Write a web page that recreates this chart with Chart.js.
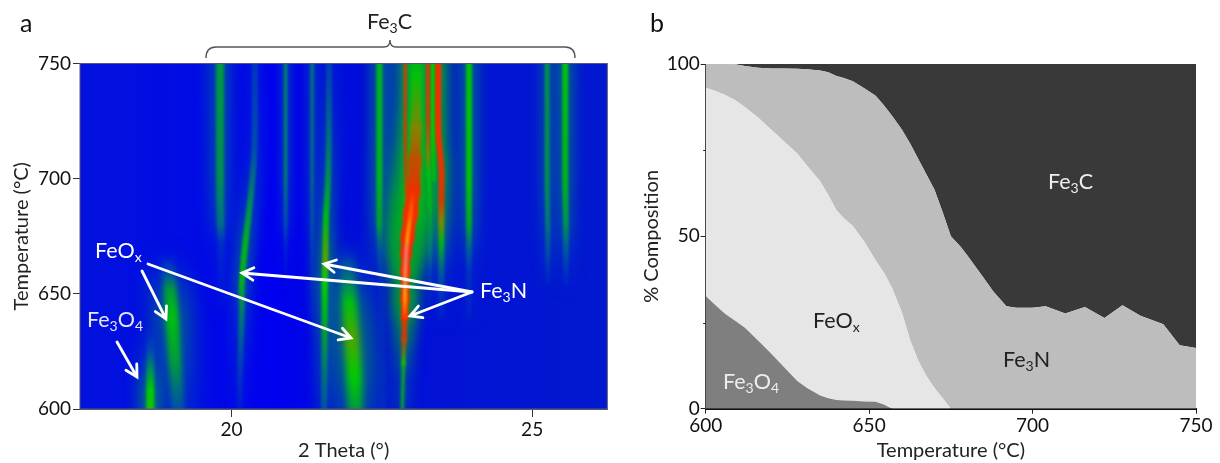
<!DOCTYPE html>
<html lang="en">
<head>
<meta charset="UTF-8">
<title>Fe phases vs temperature</title>
<script src="https://cdn.jsdelivr.net/npm/chart.js"></script>
<style>
  html, body { margin: 0; padding: 0; background: #fff; overflow: hidden; }
  #wrap { position: relative; width: 1220px; height: 463px; }
  canvas { position: absolute; top: 0; }
  #heat { left: 0; }
  #area { left: 640px; }
</style>
</head>
<body>
<div id="wrap">
  <canvas id="heat" width="640" height="463"></canvas>
  <canvas id="area" width="580" height="463"></canvas>
</div>
<script>
// panel a: diffraction peaks (2 theta, temperature, brightness)
const peakATheta = [18.65, 18.65, 18.65, 18.65, 18.65];
const peakATemp  = [634, 626, 618, 608, 600];
const peakALevel = [0.03, 0.15, 0.35, 0.6, 0.62];

const peakBTheta = [18.93, 18.95, 18.98, 19.01, 19.06, 19.11];
const peakBTemp  = [668, 662, 652, 640, 620, 600];
const peakBLevel = [0, 0.12, 0.42, 0.55, 0.42, 0.2];

const peakCTheta = [20.39, 20.38, 20.31, 20.23, 20.17, 20.17, 20.14, 20.14];
const peakCTemp  = [750, 712, 690, 672, 654, 643, 614, 600];
const peakCLevel = [0.14, 0.2, 0.36, 0.5, 0.48, 0.33, 0.12, 0.06];

const peakDTheta = [19.81, 19.81, 19.82, 19.83, 19.83, 19.83];
const peakDTemp  = [750, 700, 680, 672, 650, 640];
const peakDLevel = [0.42, 0.38, 0.28, 0.1, 0.04, 0];

const peakETheta = [20.9, 20.9, 20.9, 20.9, 20.9];
const peakETemp  = [750, 700, 680, 670, 650];
const peakELevel = [0.32, 0.3, 0.2, 0.08, 0];

const peakFTheta = [21.34, 21.34, 21.34, 21.34, 21.34];
const peakFTemp  = [750, 700, 680, 665, 640];
const peakFLevel = [0.28, 0.25, 0.18, 0.1, 0.03];

const peakGTheta = [21.62, 21.61, 21.57, 21.56, 21.55, 21.55, 21.54];
const peakGTemp  = [750, 704, 682, 665, 654, 632, 600];
const peakGLevel = [0.15, 0.35, 0.52, 0.68, 0.6, 0.42, 0.2];

const peakHTheta = [21.92, 21.93, 21.96, 22.0, 22.04, 22.06];
const peakHTemp  = [668, 663, 646, 631, 614, 600];
const peakHLevel = [0.05, 0.2, 0.56, 0.67, 0.6, 0.42];

const peakITheta = [22.46, 22.46, 22.46, 22.47, 22.49, 22.52];
const peakITemp  = [750, 700, 680, 668, 650, 600];
const peakILevel = [0.5, 0.5, 0.42, 0.15, 0.06, 0.06];

const peakJTheta = [23.07, 23.07, 23.04, 23.0, 22.92];
const peakJTemp  = [750, 720, 700, 685, 672];
const peakJLevel = [0.52, 0.54, 0.56, 0.56, 0.4];

const peakKTheta = [23.08, 23.07, 23.05, 23.02, 22.98, 22.93, 22.905, 22.89, 22.885, 22.88, 22.87, 22.86, 22.84];
const peakKTemp  = [745, 722, 708, 695, 685, 675, 668, 660, 648, 640, 630, 620, 600];
const peakKLevel = [0.56, 0.72, 0.78, 0.84, 0.88, 0.9, 0.9, 0.9, 0.9, 0.88, 0.8, 0.62, 0.5];

const coreTheta = [23.02, 22.98, 22.93, 22.905, 22.89, 22.885, 22.88];
const coreTemp  = [695, 685, 675, 668, 660, 648, 640];
const coreLevel = [0.88, 0.95, 1, 1.07, 1.05, 1, 0.92];

const peakLTheta = [22.89, 22.89, 22.9, 22.91];
const peakLTemp  = [750, 720, 700, 690];
const peakLLevel = [0.82, 0.82, 0.8, 0.6];

const peakMTheta = [23.27, 23.27, 23.27, 23.28, 23.3, 23.3, 23.3, 23.3];
const peakMTemp  = [750, 725, 710, 702, 690, 670, 660, 645];
const peakMLevel = [0.82, 0.8, 0.72, 0.55, 0.5, 0.3, 0.12, 0.03];

const peakNTheta = [23.44, 23.44, 23.49, 23.49, 23.49, 23.49, 23.49, 23.49];
const peakNTemp  = [750, 720, 704, 690, 682, 672, 658, 640];
const peakNLevel = [0.88, 0.88, 0.85, 0.8, 0.72, 0.5, 0.2, 0.05];

const peakPTheta = [23.35, 23.35, 23.36];
const peakPTemp  = [750, 720, 700];
const peakPLevel = [0.58, 0.58, 0.5];

const peakQTheta = [23.95, 23.95, 23.95, 23.95, 23.95, 23.95];
const peakQTemp  = [750, 700, 680, 670, 660, 640];
const peakQLevel = [0.55, 0.55, 0.45, 0.25, 0.1, 0.05];

const peakRTheta = [25.25, 25.25, 25.26, 25.26, 25.26];
const peakRTemp  = [750, 700, 680, 668, 655];
const peakRLevel = [0.38, 0.38, 0.3, 0.18, 0.05];

const peakSTheta = [25.55, 25.55, 25.56, 25.56, 25.56];
const peakSTemp  = [750, 700, 680, 668, 655];
const peakSLevel = [0.55, 0.5, 0.38, 0.2, 0.05];

// panel b: phase fractions
const compTemps = [600, 603, 606, 609, 612, 616, 620, 624, 628, 631, 635, 637.5, 640, 642.5, 645, 648.5, 652, 654.5, 657, 660, 662.5, 665, 667.5, 670, 672.5, 675, 678, 680, 685, 688, 692, 695, 700, 704, 710, 716, 722, 727.5, 733, 740, 745, 750];
const fe3o4Comp = [32.7, 30, 27.5, 25.5, 23.5, 19.8, 16, 12, 8, 6, 3.8, 3, 2.5, 2.4, 2.3, 2.1, 2, 1.2, 0, 0, 0, 0, 0, 0, 0, 0, 0, 0, 0, 0, 0, 0, 0, 0, 0, 0, 0, 0, 0, 0, 0, 0];
const feoxComp  = [60.4, 62.2, 63.5, 64, 64, 64.7, 65, 65.5, 66, 64.5, 62.2, 59, 55.1, 52.6, 50.7, 46.4, 41, 38.3, 35, 28, 20, 14, 9.5, 6, 3, 0, 0, 0, 0, 0, 0, 0, 0, 0, 0, 0, 0, 0, 0, 0, 0, 0];
const fe3nComp  = [6.9, 7.8, 9, 10.4, 11.9, 14.4, 17.7, 21.2, 24.6, 28, 32.1, 35.6, 38.9, 40.9, 42, 44.5, 47.8, 48.5, 50, 53, 57, 58.5, 58.5, 57.5, 54, 50, 47, 44.5, 38, 34, 29.7, 29.3, 29.3, 29.7, 27.6, 29.5, 26.3, 30, 27, 24.5, 18.4, 17.6];
const fe3cComp  = [0, 0, 0, 0.1, 0.6, 1.1, 1.3, 1.3, 1.4, 1.5, 1.9, 2.4, 3.5, 4.1, 5, 7, 9.2, 12, 15, 19, 23, 27.5, 32, 36.5, 43, 50, 53, 55.5, 62, 66, 70.3, 70.7, 70.7, 70.3, 72.4, 70.5, 73.7, 70, 73, 75.5, 81.6, 82.4];

const heatTicksY = [600, 650, 700, 750];
const minorComp = [25, 75];

// paint order, widths in px
const peaks = [
  { t: peakBTheta, T: peakBTemp, l: peakBLevel, w: 13 },
  { t: peakHTheta, T: peakHTemp, l: peakHLevel, w: 15 },
  { t: peakATheta, T: peakATemp, l: peakALevel, w: 8 },
  { t: peakCTheta, T: peakCTemp, l: peakCLevel, w: 6 },
  { t: peakDTheta, T: peakDTemp, l: peakDLevel, w: 8 },
  { t: peakETheta, T: peakETemp, l: peakELevel, w: 4 },
  { t: peakFTheta, T: peakFTemp, l: peakFLevel, w: 4 },
  { t: peakGTheta, T: peakGTemp, l: peakGLevel, w: 6 },
  { t: peakITheta, T: peakITemp, l: peakILevel, w: 6 },
  { t: peakQTheta, T: peakQTemp, l: peakQLevel, w: 6 },
  { t: peakRTheta, T: peakRTemp, l: peakRLevel, w: 5 },
  { t: peakSTheta, T: peakSTemp, l: peakSLevel, w: 6 },
  { t: peakJTheta, T: peakJTemp, l: peakJLevel, w: 18 },
  { t: peakPTheta, T: peakPTemp, l: peakPLevel, w: 5 },
  { t: peakMTheta, T: peakMTemp, l: peakMLevel, w: 4 },
  { t: peakNTheta, T: peakNTemp, l: peakNLevel, w: 6 },
  { t: peakLTheta, T: peakLTemp, l: peakLLevel, w: 3 },
  { t: peakKTheta, T: peakKTemp, l: peakKLevel, w: 8, seg: [9, 11, 13, 14, 13, 11, 9, 8, 7, 5, 4, 3] },
  { t: coreTheta, T: coreTemp, l: coreLevel, w: 4, noHalo: true }
];

const rampAt = [0, 0.12, 0.3, 0.45, 0.6, 0.7, 0.8, 0.9, 1, 1.1];
const rampRgba = [
  [0, 60, 190, 0], [0, 90, 170, 0.45], [0, 130, 110, 0.85], [0, 165, 40, 1], [0, 205, 0, 1],
  [110, 150, 0, 1], [210, 60, 0, 1], [255, 40, 0, 1], [255, 150, 0, 1], [230, 100, 150, 1]
];

function rampColor(v) {
  if (v <= 0) return 'rgba(0,60,190,0)';
  let i = 0;
  while (i < rampAt.length - 2 && v > rampAt[i + 1]) i++;
  const f = Math.min(1, (v - rampAt[i]) / (rampAt[i + 1] - rampAt[i]));
  const a = rampRgba[i], b = rampRgba[i + 1];
  const c = [0, 1, 2, 3].map(k => a[k] + (b[k] - a[k]) * f);
  return `rgba(${Math.round(c[0])},${Math.round(c[1])},${Math.round(c[2])},${c[3].toFixed(3)})`;
}

// vertical gradient through the read brightness values
function peakGradient(chart, p, gain) {
  const ys = chart.scales.y;
  if (!ys) return 'rgba(0,0,0,0)';
  const y0 = ys.getPixelForValue(p.T[0]);
  const y1 = ys.getPixelForValue(p.T[p.T.length - 1]);
  // options also get resolved once before the layout has run
  if (!isFinite(y0) || !isFinite(y1) || y0 === y1) return 'rgba(0,0,0,0)';
  const g = chart.ctx.createLinearGradient(0, y0, 0, y1);
  p.T.forEach((T, i) => {
    g.addColorStop((ys.getPixelForValue(T) - y0) / (y1 - y0), rampColor(p.l[i] * gain));
  });
  return g;
}

function peakDataset(p, halo) {
  const scale = halo ? 2.6 : 1;
  return {
    data: p.t.map((x, i) => ({ x: x, y: p.T[i] })),
    borderColor: ctx => peakGradient(ctx.chart, p, halo ? 0.5 : 1),
    borderWidth: p.w * scale,
    borderCapStyle: p.noHalo ? 'round' : 'square',
    tension: 0.35,
    pointRadius: 0,
    fill: false,
    blur: halo ? p.w * 0.7 + 2 : Math.max(1, p.w * 0.22),
    segment: p.seg ? { borderWidth: c => p.seg[c.p0DataIndex] * scale } : undefined
  };
}

// datasets are painted last to first
const heatSets = peaks.filter(p => !p.noHalo).map(p => peakDataset(p, true))
  .concat(peaks.map(p => peakDataset(p, false))).reverse();

const fontName = 'Lato, Calibri, sans-serif';

function drawRuns(ctx, x, y, runs, color, size) {
  ctx.save();
  ctx.fillStyle = color;
  ctx.textBaseline = 'alphabetic';
  ctx.textAlign = 'left';
  runs.forEach(r => {
    const sub = r[1] === 1;
    ctx.font = `${sub ? Math.round(size * 0.66) : size}px ${fontName}`;
    ctx.fillText(r[0], x, sub ? y + 4 : y);
    x += ctx.measureText(r[0]).width;
  });
  ctx.restore();
}

function drawArrow(ctx, x0, y0, x1, y1) {
  const ang = Math.atan2(y1 - y0, x1 - x0);
  const len = 13;
  ctx.save();
  ctx.strokeStyle = '#fff';
  ctx.lineWidth = 2.8;
  ctx.lineCap = 'round';
  ctx.lineJoin = 'miter';
  ctx.beginPath();
  ctx.moveTo(x0, y0);
  ctx.lineTo(x1, y1);
  ctx.moveTo(x1 - len * Math.cos(ang - 0.5), y1 - len * Math.sin(ang - 0.5));
  ctx.lineTo(x1, y1);
  ctx.lineTo(x1 - len * Math.cos(ang + 0.5), y1 - len * Math.sin(ang + 0.5));
  ctx.stroke();
  ctx.restore();
}

const heatDecor = {
  id: 'heatDecor',
  beforeDatasetsDraw(chart) {
    const { ctx, chartArea: a } = chart;
    const bg = ctx.createLinearGradient(a.left, 0, a.right, 0);
    bg.addColorStop(0, '#0212dc');
    bg.addColorStop(0.2, '#000ce4');
    bg.addColorStop(0.37, '#0000f0');
    bg.addColorStop(0.5, '#000cdc');
    bg.addColorStop(0.75, '#0214d4');
    bg.addColorStop(1, '#0218d0');
    ctx.save();
    ctx.fillStyle = bg;
    ctx.fillRect(a.left, a.top, a.width, a.height);
    ctx.restore();
  },
  beforeDatasetDraw(chart, args) {
    chart.ctx.filter = `blur(${args.meta.controller.getDataset().blur}px)`;
  },
  afterDatasetDraw(chart) {
    chart.ctx.filter = 'none';
  },
  afterDraw(chart) {
    const { ctx, chartArea: a } = chart;
    ctx.save();
    ctx.strokeStyle = '#555a70';
    ctx.lineWidth = 1;
    ctx.strokeRect(a.left, a.top, a.width, a.height);
    // bracket over the Fe3C peaks
    ctx.strokeStyle = '#555';
    ctx.lineWidth = 1.4;
    ctx.beginPath();
    ctx.moveTo(206, 58);
    ctx.quadraticCurveTo(206, 47, 216, 47);
    ctx.lineTo(384, 47);
    ctx.quadraticCurveTo(390, 47, 390, 40);
    ctx.quadraticCurveTo(390, 47, 396, 47);
    ctx.lineTo(565, 47);
    ctx.quadraticCurveTo(575, 47, 575, 58);
    ctx.stroke();
    ctx.restore();
    drawArrow(ctx, 142, 271, 166, 319);
    drawArrow(ctx, 148, 264, 351, 338);
    drawArrow(ctx, 117, 342, 137, 377);
    drawArrow(ctx, 472, 292, 324, 264);
    drawArrow(ctx, 472, 292, 242, 273);
    drawArrow(ctx, 472, 292, 410, 316);
    drawRuns(ctx, 20, 32, [['a', 0]], '#111', 25);
    drawRuns(ctx, 367, 29, [['Fe', 0], ['3', 1], ['C', 0]], '#222', 21.5);
    drawRuns(ctx, 95, 258, [['FeO', 0], ['x', 1]], '#fff', 21.5);
    drawRuns(ctx, 87, 327, [['Fe', 0], ['3', 1], ['O', 0], ['4', 1]], '#e6e6f5', 21.5);
    drawRuns(ctx, 480, 298, [['Fe', 0], ['3', 1], ['N', 0]], '#fff', 21.5);
  }
};

const areaDecor = {
  id: 'areaDecor',
  afterDraw(chart) {
    const { ctx, scales } = chart;
    ctx.save();
    ctx.strokeStyle = '#222';
    ctx.lineWidth = 1;
    minorComp.forEach(v => {
      const y = Math.round(scales.y.getPixelForValue(v)) + 0.5;
      ctx.beginPath();
      ctx.moveTo(scales.y.right - 2.5, y);
      ctx.lineTo(scales.y.right, y);
      ctx.stroke();
    });
    ctx.restore();
    drawRuns(ctx, 10, 32, [['b', 0]], '#111', 25);
    drawRuns(ctx, 173, 328, [['FeO', 0], ['x', 1]], '#222', 21.5);
    drawRuns(ctx, 83, 389, [['Fe', 0], ['3', 1], ['O', 0], ['4', 1]], '#eee', 21.5);
    drawRuns(ctx, 363, 367, [['Fe', 0], ['3', 1], ['N', 0]], '#222', 21.5);
    drawRuns(ctx, 408, 189, [['Fe', 0], ['3', 1], ['C', 0]], '#eee', 21.5);
  }
};

const tickFont = { family: fontName, size: 19 };
const titleFont = { family: fontName, size: 20 };

new Chart(document.getElementById('heat'), {
  type: 'line',
  data: { datasets: heatSets },
  plugins: [heatDecor],
  options: {
    responsive: false,
    animation: false,
    events: [],
    layout: { padding: { left: 0, top: 63.5, right: 32.7, bottom: 0 } },
    plugins: { legend: { display: false }, tooltip: { enabled: false } },
    scales: {
      x: {
        type: 'linear',
        min: 17.48,
        max: 26.25,
        afterFit: s => { s.height = 54; },
        ticks: { stepSize: 5, includeBounds: false, font: tickFont, color: '#111', padding: 1, maxRotation: 0 },
        grid: { drawOnChartArea: false, tickLength: 8, tickColor: '#333' },
        border: { color: '#555a70' },
        title: { display: true, text: '2 Theta (°)', font: titleFont, color: '#222', padding: { top: 0, bottom: 0 } }
      },
      y: {
        type: 'linear',
        min: 600,
        max: 750,
        afterFit: s => { s.width = 80; },
        afterBuildTicks: s => { s.ticks = heatTicksY.map(v => ({ value: v })); },
        ticks: { font: tickFont, color: '#111', padding: 2 },
        grid: { drawOnChartArea: false, tickLength: 7, tickColor: '#333' },
        border: { color: '#555a70' },
        title: { display: true, text: 'Temperature (°C)', font: titleFont, color: '#222', padding: { top: 10, bottom: 0 } }
      }
    }
  }
});

function areaSet(values, color, fill) {
  return {
    data: compTemps.map((t, i) => ({ x: t, y: values[i] })),
    backgroundColor: color,
    borderWidth: 0,
    borderColor: color,
    pointRadius: 0,
    tension: 0,
    fill: fill
  };
}

new Chart(document.getElementById('area'), {
  type: 'line',
  data: {
    datasets: [
      areaSet(fe3o4Comp, '#7f7f7f', 'origin'),
      areaSet(feoxComp, '#e6e6e6', '-1'),
      areaSet(fe3nComp, '#bdbdbd', '-1'),
      areaSet(fe3cComp, '#393939', '-1')
    ]
  },
  plugins: [areaDecor],
  options: {
    responsive: false,
    animation: false,
    events: [],
    layout: { padding: { left: 0, top: 64, right: 24, bottom: 0 } },
    plugins: { legend: { display: false }, tooltip: { enabled: false } },
    scales: {
      x: {
        type: 'linear',
        min: 600,
        max: 750,
        afterFit: s => { s.height = 54.3; },
        ticks: { stepSize: 50, font: tickFont, color: '#111', padding: 1, maxRotation: 0 },
        grid: { drawOnChartArea: false, tickLength: 5, tickColor: '#222' },
        border: { color: '#111', width: 2 },
        title: { display: true, text: 'Temperature (°C)', font: titleFont, color: '#222', padding: { top: 0, bottom: 0 } }
      },
      y: {
        type: 'linear',
        stacked: true,
        min: 0,
        max: 100,
        afterFit: s => { s.width = 65.7; },
        ticks: {
          stepSize: 25,
          font: tickFont,
          color: '#111',
          padding: 1,
          callback: v => (v % 50 === 0 ? v : '')
        },
        grid: {
          drawOnChartArea: false,
          tickLength: 5,
          tickColor: c => (c.tick && c.tick.value % 50 === 0 ? '#222' : 'rgba(0,0,0,0)')
        },
        border: { color: '#444' },
        title: { display: true, text: '% Composition', font: titleFont, color: '#222', padding: { top: 0, bottom: 0 } }
      }
    }
  }
});
</script>
</body>
</html>
